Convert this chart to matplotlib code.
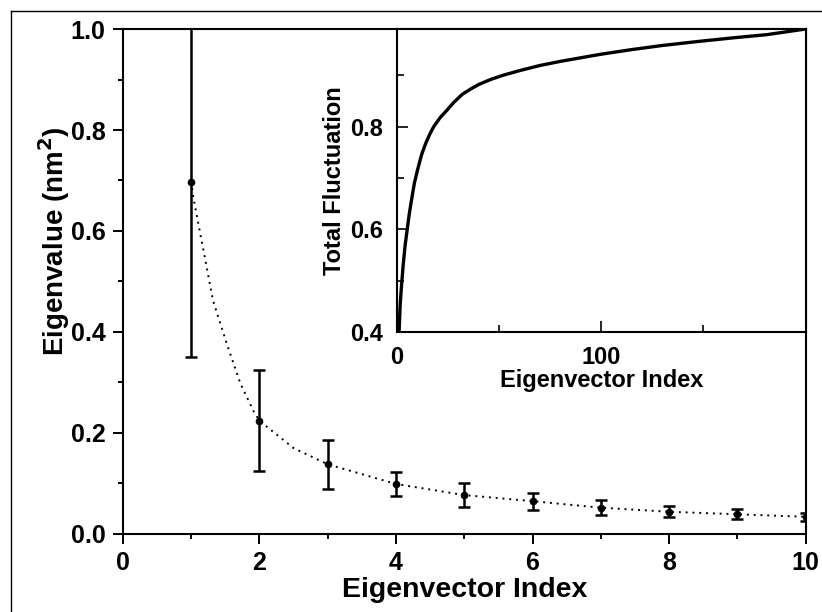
import matplotlib
matplotlib.use("Agg")
import matplotlib.pyplot as plt
from matplotlib.lines import Line2D
from matplotlib.ticker import FixedLocator, MultipleLocator

plt.rcParams["font.family"] = ["Liberation Sans", "DejaVu Sans"]
plt.rcParams["font.weight"] = "bold"
plt.rcParams["mathtext.default"] = "bf"

# main panel: eigenvalues with error bars
idx = [1, 2, 3, 4, 5, 6, 7, 8, 9, 10]
eig = [0.698, 0.224, 0.138, 0.099, 0.077, 0.065, 0.052, 0.044, 0.039, 0.034]
eig_err = [0.347, 0.100, 0.048, 0.024, 0.023, 0.017, 0.015, 0.011, 0.010, 0.008]

# dotted guide curve
fit_x = [1.0, 1.03, 1.18, 1.32, 1.52, 1.72, 1.91, 2.0, 2.5, 3, 4, 5, 6, 7, 8, 9, 10]
fit_y = [0.698, 0.667, 0.561, 0.462, 0.377, 0.298, 0.244, 0.224, 0.170, 0.138,
         0.099, 0.077, 0.065, 0.052, 0.044, 0.039, 0.034]

# inset: cumulative fluctuation
cum_x = [1, 1.5, 2, 3, 4, 5, 6, 7, 8.5, 10, 12, 14, 16, 18, 21, 24, 28, 32, 36,
         40, 46, 52, 60, 70, 80, 90, 100, 115, 130, 148, 165, 181, 200]
cum_y = [0.40, 0.45, 0.48, 0.53, 0.57, 0.60, 0.63, 0.655, 0.69, 0.715, 0.745,
         0.767, 0.785, 0.80, 0.817, 0.83, 0.848, 0.863, 0.873, 0.882, 0.892,
         0.900, 0.909, 0.919, 0.927, 0.934, 0.941, 0.950, 0.958, 0.966, 0.973,
         0.979, 0.99]

fig = plt.figure(figsize=(8.22, 6.12), dpi=100)
ax = fig.add_axes([0.1496, 0.1275, 0.8304, 0.8251])

ax.plot(fit_x, fit_y, ls=(0, (1, 2.5)), color="black", lw=1.4)
ax.errorbar(idx, eig, yerr=eig_err, fmt="o", color="black", ms=4.5,
            elinewidth=1.8, capsize=4.5, capthick=1.8)

ax.set_xlim(0, 10)
ax.set_ylim(0, 1.0)
ax.xaxis.set_major_locator(MultipleLocator(2))
ax.xaxis.set_minor_locator(MultipleLocator(1))
ax.yaxis.set_major_locator(MultipleLocator(0.2))
ax.yaxis.set_minor_locator(MultipleLocator(0.1))
ax.yaxis.set_major_formatter(lambda v, p: f"{v:.1f}")
ax.tick_params(which="major", direction="out", length=7, width=1.4, labelsize=18, pad=5.5)
ax.tick_params(which="minor", direction="out", length=3.5, width=1.4)
for s in ax.spines.values():
    s.set_linewidth(1.5)
ax.set_xlabel("Eigenvector Index", fontsize=20.5, fontweight="bold", labelpad=1)
ax.set_ylabel("Eigenvalue (nm$^2$)", fontsize=20, fontweight="bold")
ax.yaxis.set_label_coords(-0.074, 0.58)

# inset
ins = fig.add_axes([0.483, 0.4575, 0.497, 0.4951])
ins.plot(cum_x, cum_y, color="black", lw=2.4)
ins.set_xlim(0, 200)
ins.set_ylim(0.4, 0.99)
ins.xaxis.set_major_locator(FixedLocator([0, 100]))
ins.xaxis.set_minor_locator(FixedLocator([50, 150]))
ins.yaxis.set_major_locator(MultipleLocator(0.2))
ins.yaxis.set_minor_locator(MultipleLocator(0.1))
ins.yaxis.set_major_formatter(lambda v, p: f"{v:.1f}")
ins.tick_params(which="major", direction="in", length=8, width=1.2, labelsize=17, pad=10)
ins.tick_params(which="minor", direction="in", length=5, width=1.2)
for s in ins.spines.values():
    s.set_linewidth(1.5)
ins.set_xlabel("Eigenvector Index", fontsize=17, fontweight="bold", labelpad=0)
ins.set_ylabel("Total Fluctuation", fontsize=17, fontweight="bold", labelpad=3)

# frame lines visible at left and top of the original
fig.add_artist(Line2D([11 / 822, 11 / 822], [0, 1 - 11 / 612], color="black", lw=1.0))
fig.add_artist(Line2D([11 / 822, 1], [1 - 11 / 612, 1 - 11 / 612], color="black", lw=1.0))

fig.savefig("out.png", dpi=100)
